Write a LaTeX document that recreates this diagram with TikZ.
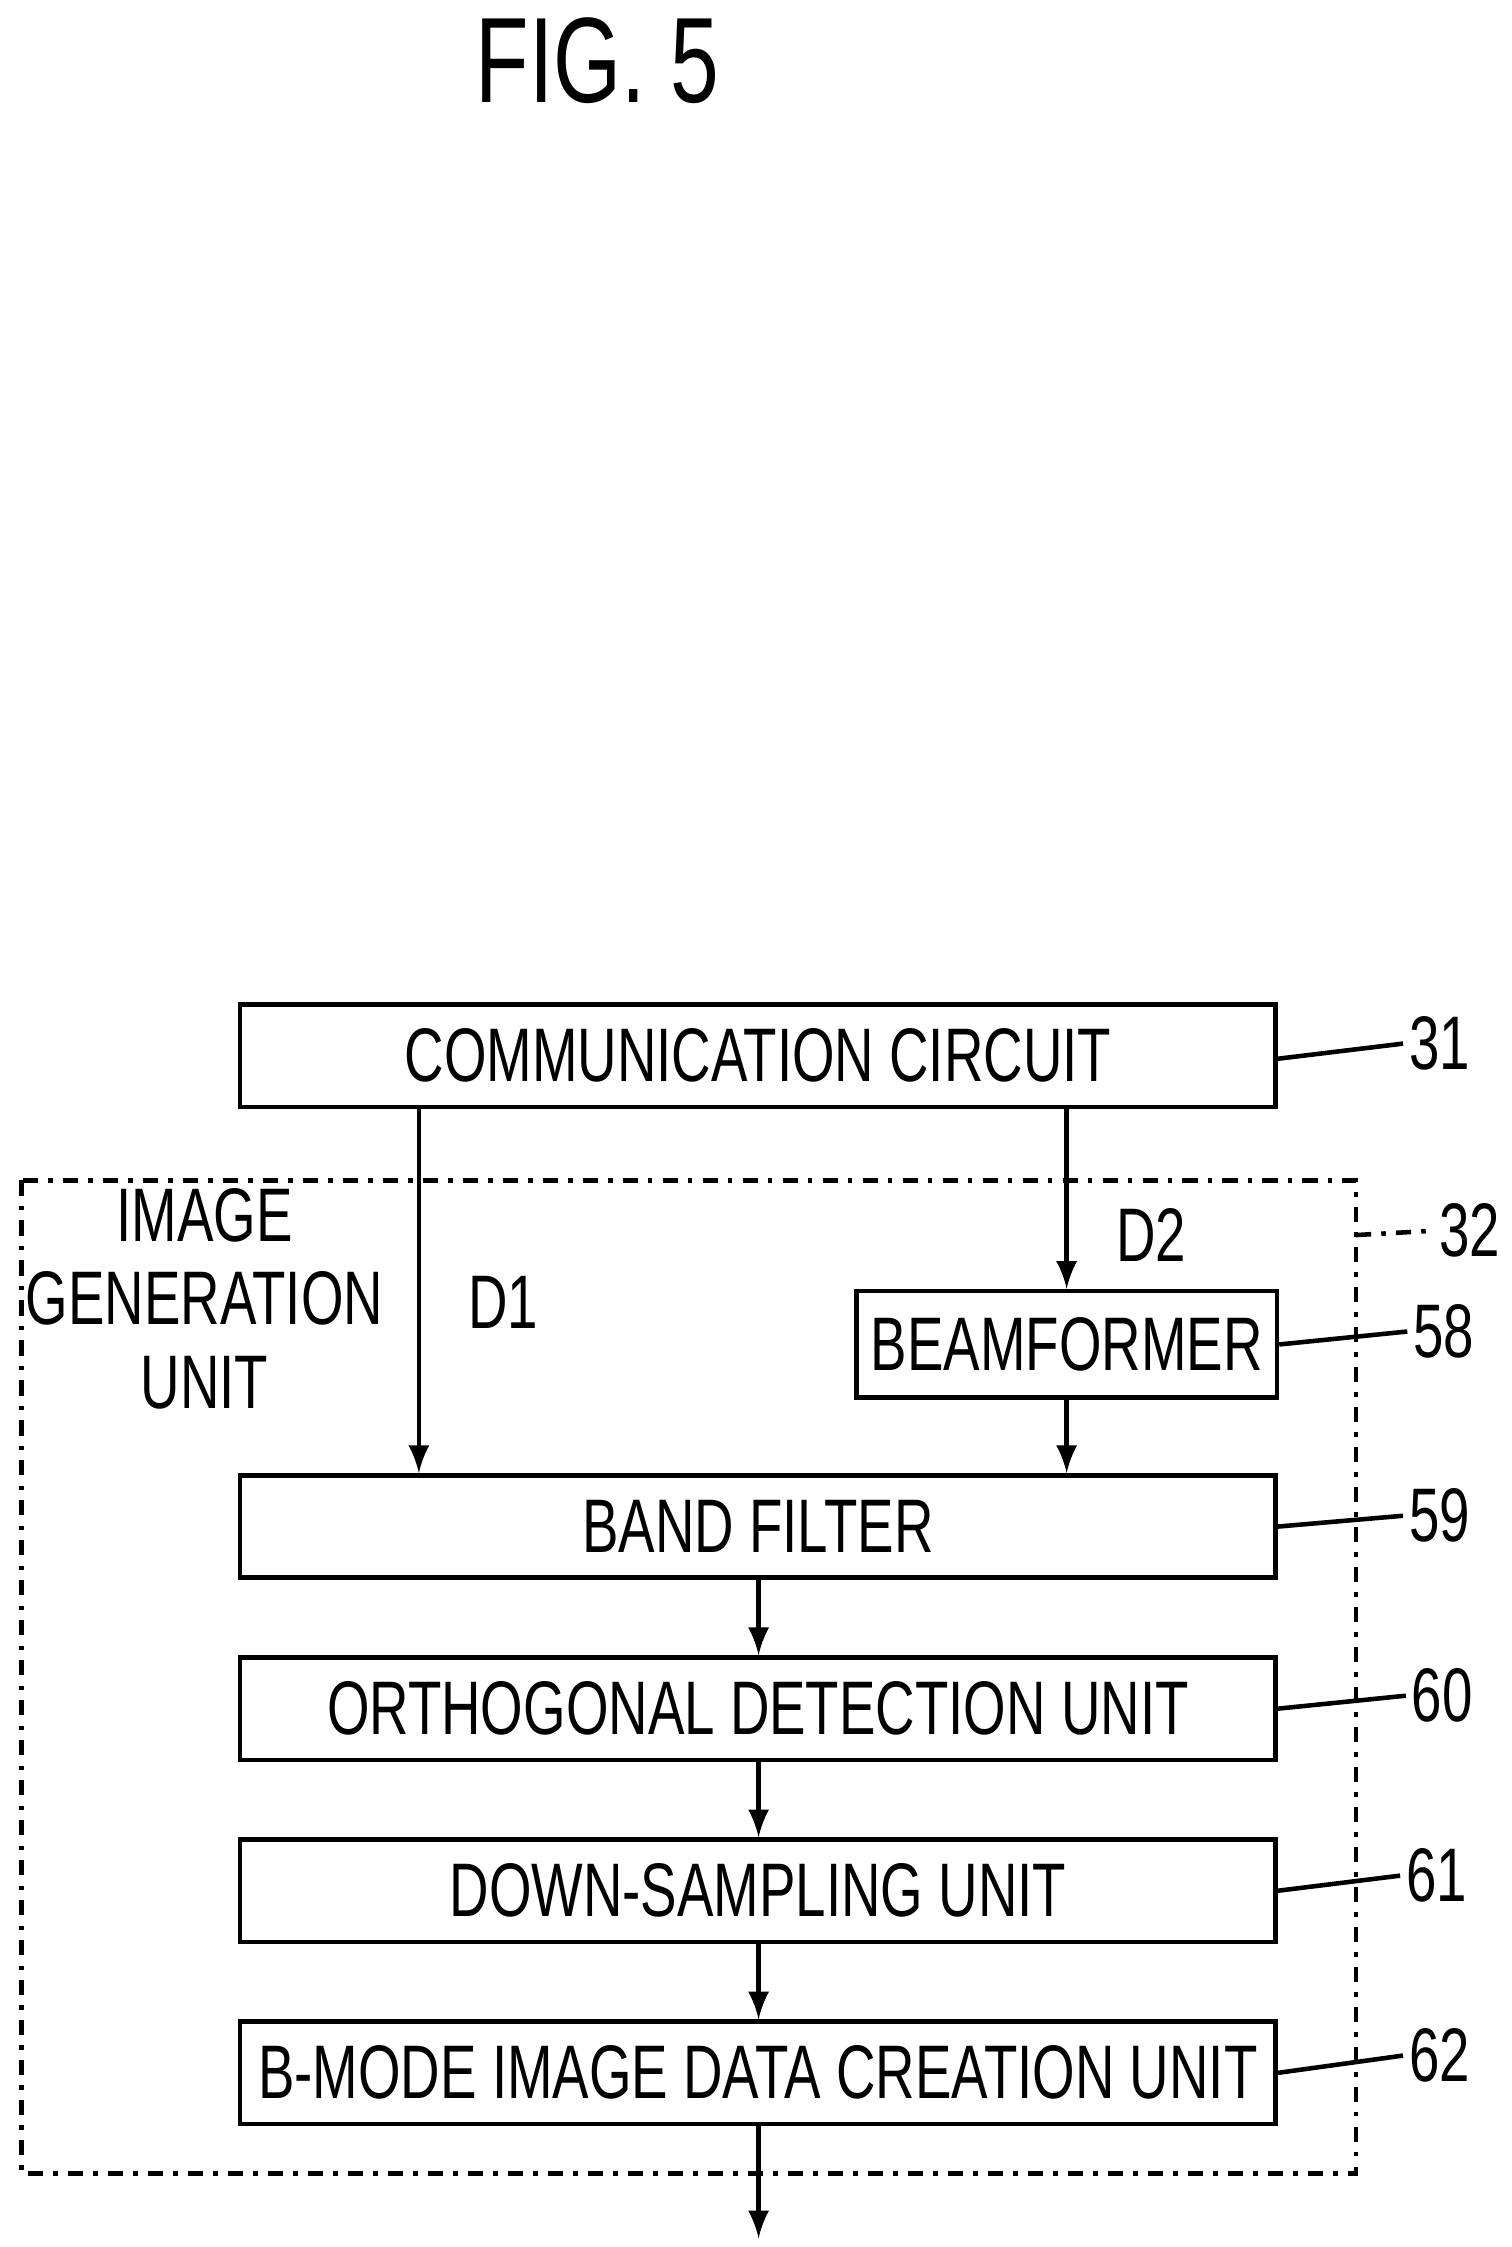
\documentclass[tikz,border=0pt]{standalone}
\usepackage{fontspec}
\setmainfont{Liberation Sans}[FakeStretch=0.72]
\usetikzlibrary{positioning}

\tikzset{
  blk/.style={draw, line width=0.9pt, minimum height=0.71cm, inner sep=0pt, font=\fontsize{15}{15}\selectfont},
  num/.style={font=\fontsize{15}{15}\selectfont, inner sep=1pt},
  flow/.style={->, >=latex, line width=0.9pt},
  lead/.style={line width=0.9pt}
}

\begin{document}
\begin{tikzpicture}[x=0.01cm, y=-0.01cm]
	\useasboundingbox (0,0) rectangle (1050,1561);
	\node [font=\fontsize{24}{24}\selectfont] (title) at (415,42) {FIG. 5};
	% image generation unit (dash-dot frame)
	\draw [line width=0.9pt, dash dot] (15,820) rectangle (942,1510);
	\coordinate (frame) at (942,858);
	\node [num] (n32) at (1021,855) {32};
	\draw [lead, dash dot] (frame) -- (n32.west);
	\node [align=center, font=\fontsize{15}{16.5}\selectfont] (igu) at (142,902) {IMAGE\\GENERATION\\UNIT};
	% blocks
	\node [blk, minimum width=7.19cm] (comm) at (526.5,733.5) {COMMUNICATION CIRCUIT};
	\node [blk, minimum width=2.92cm, minimum height=0.74cm] (beam) at (741,934) {BEAMFORMER};
	\node [blk, minimum width=7.19cm] (band) at (526.5,1060.5) {BAND FILTER};
	\node [blk, minimum width=7.19cm] (orth) at (526.5,1187) {ORTHOGONAL DETECTION UNIT};
	\node [blk, minimum width=7.19cm] (down) at (526.5,1313.5) {DOWN-SAMPLING UNIT};
	\node [blk, minimum width=7.19cm] (bmode) at (526.5,1440) {B-MODE IMAGE DATA CREATION UNIT};
	\coordinate (out) at (527,1555);
	% reference numerals
	\node [num] (n31) at (1000,725) {31};
	\node [num] (n58) at (1003,925) {58};
	\node [num] (n59) at (1000,1053) {59};
	\node [num] (n60) at (1002,1178) {60};
	\node [num] (n61) at (998,1303) {61};
	\node [num] (n62) at (1000,1428) {62};
	\draw [lead] (comm.east) ++(0,2) -- (n31.west);
	\draw [lead] (beam.east) -- (n58.west);
	\draw [lead] (band.east) -- (n59.west);
	\draw [lead] (orth.east) -- (n60.west);
	\draw [lead] (down.east) -- (n61.west);
	\draw [lead] (bmode.east) -- (n62.west);
	% data flow
	\draw [flow] (comm.south -| 291,0) -- (band.north -| 291,0) node [pos=0.53, right=6pt, font=\fontsize{15}{15}\selectfont] {D1};
	\draw [flow] (comm.south -| beam.north) -- (beam.north) node [pos=0.7, right=6pt, font=\fontsize{15}{15}\selectfont] {D2};
	\draw [flow] (beam.south) -- (band.north -| beam.south);
	\draw [flow] (band.south -| out) -- (orth.north -| out);
	\draw [flow] (orth.south -| out) -- (down.north -| out);
	\draw [flow] (down.south -| out) -- (bmode.north -| out);
	\draw [flow] (bmode.south -| out) -- (out);
\end{tikzpicture}
\end{document}
